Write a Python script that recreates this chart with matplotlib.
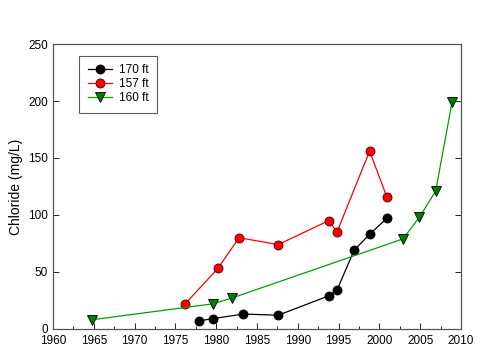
import matplotlib
matplotlib.use('Agg')
import matplotlib.pyplot as plt
from matplotlib.ticker import MultipleLocator

plt.rcParams['font.family'] = ['Liberation Sans', 'DejaVu Sans']

# 170 ft well
yr170 = [1977.9, 1979.6, 1983.3, 1987.6, 1993.8, 1994.8, 1996.9, 1998.8, 2000.9]
cl170 = [7, 9, 13, 12, 29, 34, 69, 83, 97]
# 157 ft well
yr157 = [1976.2, 1980.2, 1982.8, 1987.6, 1993.8, 1994.8, 1998.8, 2000.9]
cl157 = [22, 53, 80, 74, 95, 85, 156, 116]
# 160 ft well
yr160 = [1964.8, 1979.6, 1981.9, 2002.9, 2004.9, 2006.9, 2008.9]
cl160 = [8, 22, 27, 79, 98, 121, 199]

fig = plt.figure(figsize=(5, 3.61), dpi=100)
ax = fig.add_axes([0.106, 0.089, 0.816, 0.789])

ax.plot(yr170, cl170, color='black', lw=0.9, marker='o', ms=6.5,
        mfc='black', mec='black', mew=0.6, label='170 ft')
ax.plot(yr157, cl157, color='red', lw=0.9, marker='o', ms=6.5,
        mfc='red', mec='#400000', mew=0.6, label='157 ft')
ax.plot(yr160, cl160, color='#00a000', lw=0.9, marker='v', ms=6.5,
        mfc='#008000', mec='black', mew=0.6, label='160 ft')

ax.set_xlim(1960, 2010)
ax.set_ylim(0, 250)
ax.xaxis.set_major_locator(MultipleLocator(5))
ax.xaxis.set_minor_locator(MultipleLocator(2.5))
ax.yaxis.set_major_locator(MultipleLocator(50))
ax.tick_params(which='both', direction='in', right=True, top=False, labelsize=8.5)
ax.tick_params(which='major', length=4, width=0.6)
ax.tick_params(which='minor', length=2.5, width=0.6)
ax.tick_params(axis='x', pad=4.5)
for s in ax.spines.values():
    s.set_color('#555555')
    s.set_linewidth(0.9)

ax.set_ylabel('Chloride (mg/L)', fontsize=10)

leg = ax.legend(loc='upper left', bbox_to_anchor=(0.05, 0.98), fontsize=8.5,
                frameon=True, fancybox=False, edgecolor='#333333',
                handlelength=2.0, borderpad=0.75, labelspacing=0.15,
                handletextpad=0.6)
leg.get_frame().set_linewidth(0.8)

fig.savefig('out.png', dpi=100)
